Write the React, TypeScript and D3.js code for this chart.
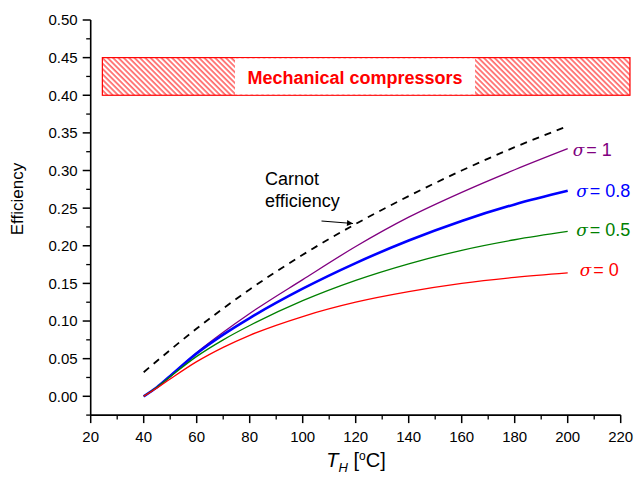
import React, { useEffect, useRef } from "react";
import * as d3 from "d3";

const temps = [40, 45, 50, 60, 70, 80, 100, 120, 140, 160, 180, 200];
const sigma1 = [0, 0.012, 0.027, 0.058, 0.085, 0.11, 0.155, 0.199, 0.238, 0.271, 0.301, 0.329];
const sigma08 = [0, 0.012, 0.027, 0.057, 0.082, 0.104, 0.143, 0.177, 0.207, 0.233, 0.255, 0.273];
const sigma05 = [0, 0.012, 0.026, 0.053, 0.075, 0.094, 0.127, 0.154, 0.176, 0.194, 0.208, 0.219];
const sigma0 = [0, 0.011, 0.023, 0.046, 0.065, 0.081, 0.106, 0.125, 0.139, 0.15, 0.158, 0.164];

const carnotTemps = [40, 60, 80, 100, 120, 140, 160, 180, 200];
const carnot = [0.032, 0.09, 0.142, 0.188, 0.229, 0.266, 0.3, 0.331, 0.359];

const xTicks = [20, 40, 60, 80, 100, 120, 140, 160, 180, 200, 220];
const yTicks = [0, 0.05, 0.1, 0.15, 0.2, 0.25, 0.3, 0.35, 0.4, 0.45, 0.5];

// band of mechanical compressors
const bandLow = 0.4;
const bandHigh = 0.45;
const bandStart = 24.4;
const bandEnd = 223.5;

const seriesList = [
  { name: "1", values: sigma1, color: "#800080", width: 1.3, labelY: 155.5, dx: 5 },
  { name: "0.8", values: sigma08, color: "#0000ff", width: 2.6, labelY: 197, dx: 8.5 },
  { name: "0.5", values: sigma05, color: "#008000", width: 1.3, labelY: 235.5, dx: 8.5 },
  { name: "0", values: sigma0, color: "#ff0000", width: 1.3, labelY: 276, dx: 12 },
];

const FONT = "'Liberation Sans', Arial, sans-serif";

export default function App() {
  const ref = useRef<SVGSVGElement>(null);

  useEffect(() => {
    const svg = d3.select(ref.current);
    svg.selectAll("*").remove();

    const x = d3.scaleLinear().domain([20, 220]).range([90.7, 620.7]);
    const y = d3.scaleLinear().domain([-0.025, 0.5]).range([415.1, 20]);

    // hatch pattern
    const defs = svg.append("defs");
    const pat = defs
      .append("pattern")
      .attr("id", "hatch")
      .attr("patternUnits", "userSpaceOnUse")
      .attr("width", 3.8)
      .attr("height", 3.8)
      .attr("patternTransform", "rotate(-45)");
    pat
      .append("line")
      .attr("x1", 1)
      .attr("y1", 0)
      .attr("x2", 1)
      .attr("y2", 3.8)
      .attr("stroke", "#ff0000")
      .attr("stroke-width", 1);

    svg
      .append("rect")
      .attr("x", x(bandStart))
      .attr("y", y(bandHigh))
      .attr("width", x(bandEnd) - x(bandStart))
      .attr("height", y(bandLow) - y(bandHigh))
      .attr("fill", "url(#hatch)")
      .attr("stroke", "#ff0000")
      .attr("stroke-width", 1.2);

    svg
      .append("rect")
      .attr("x", 235)
      .attr("y", y(bandHigh) + 0.8)
      .attr("width", 240)
      .attr("height", y(bandLow) - y(bandHigh) - 1.6)
      .attr("fill", "#fff");

    svg
      .append("text")
      .attr("x", 355)
      .attr("y", 83.5)
      .attr("text-anchor", "middle")
      .style("font-family", FONT)
      .style("font-size", "18px")
      .style("font-weight", "bold")
      .attr("fill", "#ff0000")
      .text("Mechanical compressors");

    // axes
    const xAxis = svg.append("g").attr("transform", `translate(0,${y(-0.025)})`);
    xAxis
      .append("line")
      .attr("x1", x(20))
      .attr("x2", x(220))
      .attr("stroke", "#000")
      .attr("stroke-width", 1.6);
    xAxis
      .selectAll(".minor")
      .data(d3.range(30, 220, 20))
      .enter()
      .append("line")
      .attr("x1", (d) => x(d))
      .attr("x2", (d) => x(d))
      .attr("y1", 0)
      .attr("y2", 4.5)
      .attr("stroke", "#000")
      .attr("stroke-width", 1.3);
    xAxis
      .selectAll(".major")
      .data(xTicks)
      .enter()
      .append("line")
      .attr("x1", (d) => x(d))
      .attr("x2", (d) => x(d))
      .attr("y1", 0)
      .attr("y2", 8)
      .attr("stroke", "#000")
      .attr("stroke-width", 1.5);
    xAxis
      .selectAll(".lab")
      .data(xTicks)
      .enter()
      .append("text")
      .attr("x", (d) => x(d))
      .attr("y", 26.5)
      .attr("text-anchor", "middle")
      .style("font-family", FONT)
      .style("font-size", "15px")
      .text((d) => d);

    const yAxis = svg.append("g").attr("transform", `translate(${x(20)},0)`);
    yAxis
      .append("line")
      .attr("y1", y(-0.025))
      .attr("y2", y(0.5))
      .attr("stroke", "#000")
      .attr("stroke-width", 1.6);
    yAxis
      .selectAll(".minor")
      .data(d3.range(0, 11).map((i) => -0.025 + i * 0.05))
      .enter()
      .append("line")
      .attr("y1", (d) => y(d))
      .attr("y2", (d) => y(d))
      .attr("x1", 0)
      .attr("x2", -4.5)
      .attr("stroke", "#000")
      .attr("stroke-width", 1.3);
    yAxis
      .selectAll(".major")
      .data(yTicks)
      .enter()
      .append("line")
      .attr("y1", (d) => y(d))
      .attr("y2", (d) => y(d))
      .attr("x1", 0)
      .attr("x2", -8)
      .attr("stroke", "#000")
      .attr("stroke-width", 1.5);
    yAxis
      .selectAll(".lab")
      .data(yTicks)
      .enter()
      .append("text")
      .attr("x", -13)
      .attr("y", (d) => y(d))
      .attr("dy", "0.36em")
      .attr("text-anchor", "end")
      .style("font-family", FONT)
      .style("font-size", "15px")
      .text((d) => d3.format(".2f")(d));

    // axis titles
    svg
      .append("text")
      .attr("transform", "translate(23,199) rotate(-90)")
      .attr("text-anchor", "middle")
      .style("font-family", FONT)
      .style("font-size", "17px")
      .text("Efficiency");

    const xt = svg
      .append("text")
      .attr("x", 356)
      .attr("y", 467)
      .attr("text-anchor", "middle")
      .style("font-family", FONT)
      .style("font-size", "20px");
    xt.append("tspan").style("font-style", "italic").text("T");
    xt.append("tspan").attr("dy", 5).style("font-size", "13px").style("font-style", "italic").text("H");
    xt.append("tspan").attr("dy", -5).text(" [");
    xt.append("tspan").attr("dy", -7).style("font-size", "12px").text("o");
    xt.append("tspan").attr("dy", 7).text("C]");

    // curves
    const line = d3
      .line<[number, number]>()
      .x((d) => x(d[0]))
      .y((d) => y(d[1]))
      .curve(d3.curveMonotoneX);

    svg
      .append("path")
      .datum(carnotTemps.map((t, i) => [t, carnot[i]] as [number, number]))
      .attr("fill", "none")
      .attr("stroke", "#000")
      .attr("stroke-width", 1.8)
      .attr("stroke-dasharray", "7,6")
      .attr("d", line);

    seriesList.forEach((s) => {
      svg
        .append("path")
        .datum(temps.map((t, i) => [t, s.values[i]] as [number, number]))
        .attr("fill", "none")
        .attr("stroke", s.color)
        .attr("stroke-width", s.width)
        .attr("d", line);

      const lab = svg
        .append("text")
        .attr("x", x(200) + s.dx)
        .attr("y", s.labelY)
        .style("font-family", FONT)
        .style("font-size", "18px")
        .attr("fill", s.color);
      lab
        .append("tspan")
        .style("font-family", "'DejaVu Serif', 'Liberation Serif', serif")
        .style("font-style", "italic")
        .style("font-size", "17px")
        .text("σ");
      lab.append("tspan").attr("dx", 2).text("= " + s.name);
    });

    // Carnot annotation
    svg
      .append("text")
      .attr("x", 265)
      .attr("y", 185)
      .style("font-family", FONT)
      .style("font-size", "18px")
      .text("Carnot");
    svg
      .append("text")
      .attr("x", 265)
      .attr("y", 206.5)
      .style("font-family", FONT)
      .style("font-size", "18px")
      .text("efficiency");

    defs
      .append("marker")
      .attr("id", "arrow")
      .attr("viewBox", "0 0 10 10")
      .attr("refX", 10)
      .attr("refY", 5)
      .attr("markerWidth", 7)
      .attr("markerHeight", 5)
      .attr("orient", "auto")
      .append("path")
      .attr("d", "M0,0L10,5L0,10z")
      .attr("fill", "#000");
    svg
      .append("line")
      .attr("x1", 321.5)
      .attr("y1", 221)
      .attr("x2", 353)
      .attr("y2", 223.5)
      .attr("stroke", "#000")
      .attr("stroke-width", 1.2)
      .attr("marker-end", "url(#arrow)");
  }, []);

  return (
    <svg
      ref={ref}
      width={636}
      height={480}
      style={{ position: "absolute", left: 0, top: 0, background: "#fff" }}
    />
  );
}
